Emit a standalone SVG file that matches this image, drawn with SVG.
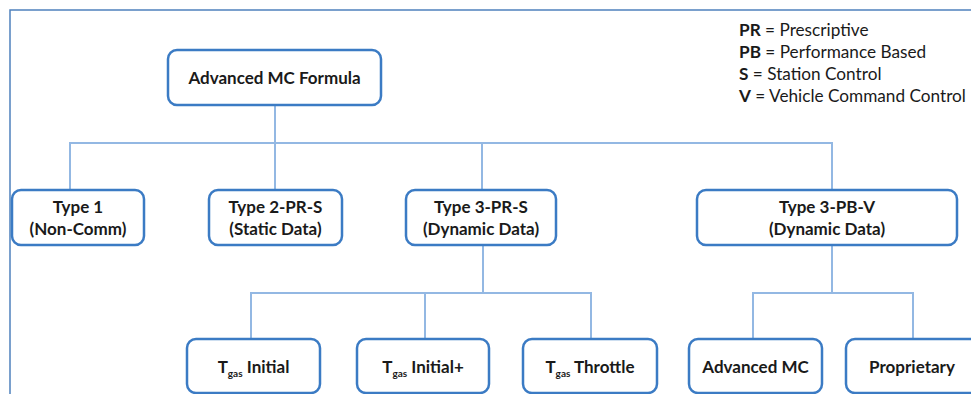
<svg xmlns="http://www.w3.org/2000/svg" width="971" height="394" viewBox="0 0 971 394">
<style>
.box{fill:#fff;stroke:#3b7bc4;stroke-width:2.5}
.lbl{font-family:Lato,"Open Sans","Liberation Sans",sans-serif;font-weight:bold;font-size:17px;fill:#1a1a1a;text-anchor:middle}
.sub{font-size:10px}
.leg{font-family:Lato,"Open Sans","Liberation Sans",sans-serif;font-size:17.2px;fill:#1a1a1a}
.leg .b{font-weight:bold}
.con{fill:none;stroke:#93b8e3;stroke-width:2}
</style>
<rect width="971" height="394" fill="#fff"/>
<rect x="10" y="10" width="1000" height="420" fill="none" stroke="#4f81bd" stroke-width="1.5"/>
<g id="connectors">
<path class="con" d="M275 106V143M70 189V143H832V189M275 143V189M482 143V189"/>
<path class="con" d="M483 245V293M251 339V293H591V339M425 293V339"/>
<path class="con" d="M832 245V293M753 339V293H913V339"/>
</g>
<g id="root"><rect class="box" x="168" y="50" width="213" height="55" rx="9"/><text class="lbl" x="274.5" y="84">Advanced MC Formula</text></g>
<g id="type1"><rect class="box" x="12" y="190" width="132" height="55" rx="9"/><text class="lbl" x="78" y="213">Type 1</text><text class="lbl" x="78" y="235">(Non-Comm)</text></g>
<g id="type2"><rect class="box" x="209" y="190" width="133" height="55" rx="9"/><text class="lbl" x="275.5" y="213">Type 2-PR-S</text><text class="lbl" x="275.5" y="235">(Static Data)</text></g>
<g id="type3prs"><rect class="box" x="406" y="190" width="150" height="55" rx="9"/><text class="lbl" x="481" y="213">Type 3-PR-S</text><text class="lbl" x="481" y="235">(Dynamic Data)</text></g>
<g id="type3pbv"><rect class="box" x="697" y="190" width="260" height="55" rx="9"/><text class="lbl" x="827" y="213">Type 3-PB-V</text><text class="lbl" x="827" y="235">(Dynamic Data)</text></g>
<g id="tgasInitial"><rect class="box" x="187" y="339" width="133" height="54" rx="9"/><text class="lbl" x="253.5" y="373">T<tspan class="sub" dy="4">gas</tspan><tspan dy="-4"> Initial</tspan></text></g>
<g id="tgasInitialPlus"><rect class="box" x="357" y="339" width="132" height="54" rx="9"/><text class="lbl" x="423" y="373">T<tspan class="sub" dy="4">gas</tspan><tspan dy="-4"> Initial+</tspan></text></g>
<g id="tgasThrottle"><rect class="box" x="523" y="339" width="134" height="54" rx="9"/><text class="lbl" x="590" y="373">T<tspan class="sub" dy="4">gas</tspan><tspan dy="-4"> Throttle</tspan></text></g>
<g id="advancedMC"><rect class="box" x="689" y="339" width="133" height="54" rx="9"/><text class="lbl" x="755.5" y="373">Advanced MC</text></g>
<g id="proprietary"><rect class="box" x="846" y="339" width="150" height="54" rx="9"/><text class="lbl" x="912" y="373">Proprietary</text></g>
<g id="legend" class="leg">
<text x="739" y="36"><tspan class="b">PR</tspan> = Prescriptive</text>
<text x="739" y="58"><tspan class="b">PB</tspan> = Performance Based</text>
<text x="739" y="80"><tspan class="b">S</tspan> = Station Control</text>
<text x="739" y="102"><tspan class="b">V</tspan> = Vehicle Command Control</text>
</g>
</svg>
